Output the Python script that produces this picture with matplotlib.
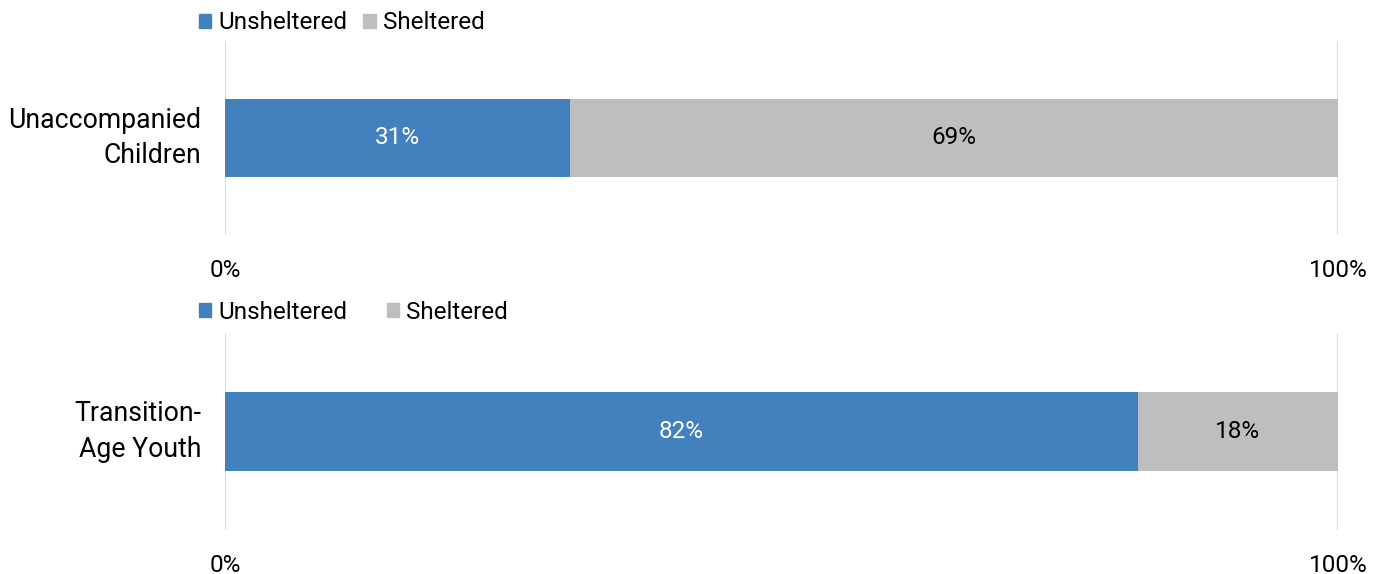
import matplotlib.pyplot as plt
from matplotlib.patches import Patch

plt.rcParams['font.family'] = ['Roboto', 'DejaVu Sans']

# data
groups = ['Unaccompanied\nChildren', 'Transition-\nAge Youth']
unsheltered = [31, 82]
sheltered = [69, 18]

blue = '#4380BE'
grey = '#BCBEC0'
fs = 17.5

fig = plt.figure(figsize=(13.8, 5.74), dpi=100)
ax_top = fig.add_axes([0.163, 0.5906, 0.8065, 0.338])
ax_bot = fig.add_axes([0.163, 0.0767, 0.8065, 0.343])

for ax, name, u, s, ly, cs in zip([ax_top, ax_bot], groups, unsheltered, sheltered,
                                  [0.972, 0.985], [0.65, 1.6]):
    ax.barh([0], [u], height=0.4, color=blue)
    ax.barh([0], [s], left=[u], height=0.4, color=grey)
    ax.text(u / 2, 0, f'{u}%', color='white', ha='center', va='center', fontsize=fs)
    ax.text(u + s / 2, 0, f'{s}%', color='black', ha='center', va='center', fontsize=fs)

    ax.set_xlim(0, 100)
    ax.set_ylim(-0.5, 0.5)
    ax.set_xticks([0, 100])
    ax.set_xticklabels(['0%', '100%'])
    ax.set_yticks([0])
    ax.set_yticklabels([name], ha='right', va='center', ma='right', fontsize=19.2,
                       linespacing=1.4)
    ax.tick_params(axis='both', length=0, colors='black')
    ax.tick_params(axis='x', pad=17, labelsize=fs)
    ax.tick_params(axis='y', pad=17)
    for sp in ax.spines.values():
        sp.set_visible(False)
    ax.axvline(0, color='#D9D9D9', lw=1.5, zorder=0)
    ax.axvline(100, color='#D9D9D9', lw=1.5, zorder=0)

    handles = [Patch(color=blue, label='Unsheltered'), Patch(color=grey, label='Sheltered')]
    ax.legend(handles=handles, loc='lower left', bbox_to_anchor=(-0.034, ly),
              ncol=2, frameon=False, fontsize=fs, handlelength=0.5, handleheight=0.5,
              handletextpad=0.3, columnspacing=cs, borderaxespad=0.1)

fig.savefig('out.png', dpi=100)
